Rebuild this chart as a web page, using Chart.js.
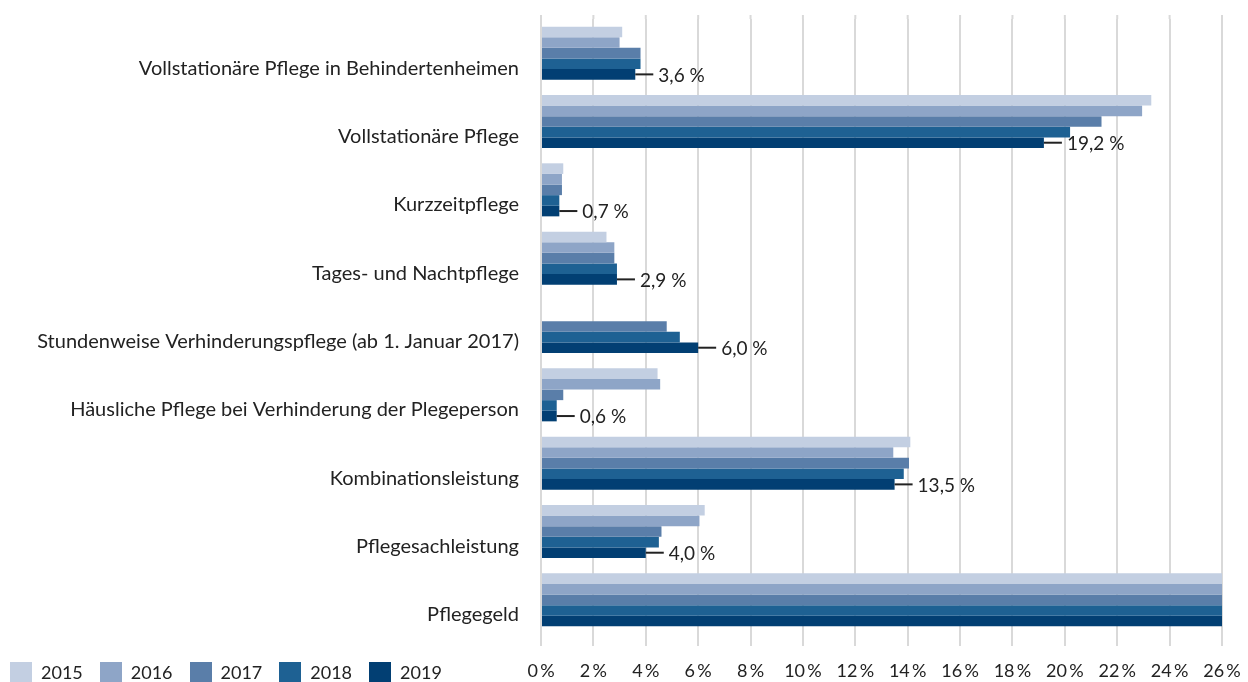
<!DOCTYPE html>
<html>
<head>
  <title>Pflegeleistungen 2015-2019</title>
  <script src="https://cdn.jsdelivr.net/npm/chart.js"></script>
  <style>
    body { margin: 0; background: #fff; font-family: Lato, sans-serif; }
    #wrap { position: relative; width: 1248px; height: 682px; }
    #legend { position: absolute; left: 10px; top: 662px; display: flex; font-size: 18px; color: #222; line-height: 20px; }
    #legend span.item { display: flex; align-items: flex-start; margin-right: 17px; }
    #legend i { display: inline-block; width: 22px; height: 20px; margin-right: 9px; }
  </style>
</head>
<body>
  <div id="wrap">
    <canvas id="chart" width="1248" height="682"></canvas>
    <div id="legend"></div>
  </div>

  <script>
    const categories = [
      'Vollstationäre Pflege in Behindertenheimen',
      'Vollstationäre Pflege',
      'Kurzzeitpflege',
      'Tages- und Nachtpflege',
      'Stundenweise Verhinderungspflege (ab 1. Januar 2017)',
      'Häusliche Pflege bei Verhinderung der Plegeperson',
      'Kombinationsleistung',
      'Pflegesachleistung',
      'Pflegegeld'
    ];
    const years = ['2015', '2016', '2017', '2018', '2019'];
    const colors = ['#c3cfe2', '#8ea5c7', '#5a7ea9', '#1e6193', '#023f73'];

    // share in percent, Pflegegeld runs off the axis at 26
    const v2015 = [3.1, 23.3, 0.85, 2.5, null, 4.45, 14.1, 6.25, 26];
    const v2016 = [3.0, 22.95, 0.8, 2.8, null, 4.55, 13.45, 6.05, 26];
    const v2017 = [3.8, 21.4, 0.8, 2.8, 4.8, 0.85, 14.05, 4.6, 26];
    const v2018 = [3.8, 20.2, 0.7, 2.9, 5.3, 0.6, 13.85, 4.5, 26];
    const v2019 = [3.6, 19.2, 0.7, 2.9, 6.0, 0.6, 13.5, 4.0, 26];
    const series = [v2015, v2016, v2017, v2018, v2019];

    // labels shown at the 2019 bar
    const labels2019 = ['3,6 %', '19,2 %', '0,7 %', '2,9 %', '6,0 %', '0,6 %', '13,5 %', '4,0 %', null];

    const xTicks = [0, 2, 4, 6, 8, 10, 12, 14, 16, 18, 20, 22, 24, 26];

    const legend = document.getElementById('legend');
    years.forEach((y, i) => {
      const s = document.createElement('span');
      s.className = 'item';
      s.innerHTML = '<i style="background:' + colors[i] + '"></i>' + y;
      legend.appendChild(s);
    });

    // gridlines poke out a few px above the plot
    const gridTop = {
      id: 'gridTop',
      beforeDatasetsDraw(chart) {
        const { ctx, chartArea, scales } = chart;
        ctx.save();
        ctx.strokeStyle = '#d9d9d9';
        ctx.lineWidth = 2;
        xTicks.forEach(v => {
          const x = scales.x.getPixelForValue(v);
          ctx.beginPath();
          ctx.moveTo(x, chartArea.top - 4);
          ctx.lineTo(x, chartArea.top);
          ctx.stroke();
        });
        ctx.restore();
      }
    };

    const valueLabels = {
      id: 'valueLabels',
      afterDatasetsDraw(chart) {
        const ctx = chart.ctx;
        const meta = chart.getDatasetMeta(4);
        ctx.save();
        ctx.strokeStyle = '#222';
        ctx.lineWidth = 2;
        ctx.fillStyle = '#222';
        ctx.font = '19px Lato';
        ctx.textBaseline = 'middle';
        meta.data.forEach((bar, i) => {
          if (!labels2019[i]) return;
          ctx.beginPath();
          ctx.moveTo(bar.x, bar.y);
          ctx.lineTo(bar.x + 18, bar.y);
          ctx.stroke();
          ctx.fillText(labels2019[i], bar.x + 23, bar.y + 1);
        });
        ctx.restore();
      }
    };

    const ctx = document.getElementById('chart').getContext('2d');
    const chart = new Chart(ctx, {
      type: 'bar',
      data: {
        labels: categories,
        datasets: years.map((y, i) => ({
          label: y,
          data: series[i],
          backgroundColor: colors[i],
          borderWidth: 0,
          categoryPercentage: 0.776,
          barPercentage: 1.0
        }))
      },
      options: {
        indexAxis: 'y',
        responsive: false,
        animation: false,
        layout: { padding: { top: 19, right: 26, bottom: 0, left: 0 } },
        plugins: {
          legend: { display: false },
          tooltip: { enabled: false }
        },
        scales: {
          x: {
            min: 0,
            max: 26,
            afterBuildTicks: (scale) => { scale.ticks = xTicks.map(v => ({ value: v })); },
            afterFit: (scale) => {
              scale.height = 48;
              scale.paddingLeft = 0;
              scale.paddingRight = 0;
            },
            grid: { color: '#d9d9d9', lineWidth: 2, tickLength: 12, tickColor: '#d9d9d9' },
            border: { display: false },
            ticks: {
              padding: 14,
              color: '#222',
              font: { family: 'Lato', size: 18 },
              callback: (v) => v + '\u2009%'
            }
          },
          y: {
            afterFit: (scale) => {
              scale.width = 541;
              scale.paddingTop = 0;
              scale.paddingBottom = 0;
            },
            grid: { display: false, drawTicks: false },
            border: { display: false },
            ticks: {
              padding: 22,
              labelOffset: 15,
              color: '#222',
              font: { family: 'Lato', size: 20 }
            }
          }
        }
      },
      plugins: [gridTop, valueLabels]
    });
  </script>
</body>
</html>
